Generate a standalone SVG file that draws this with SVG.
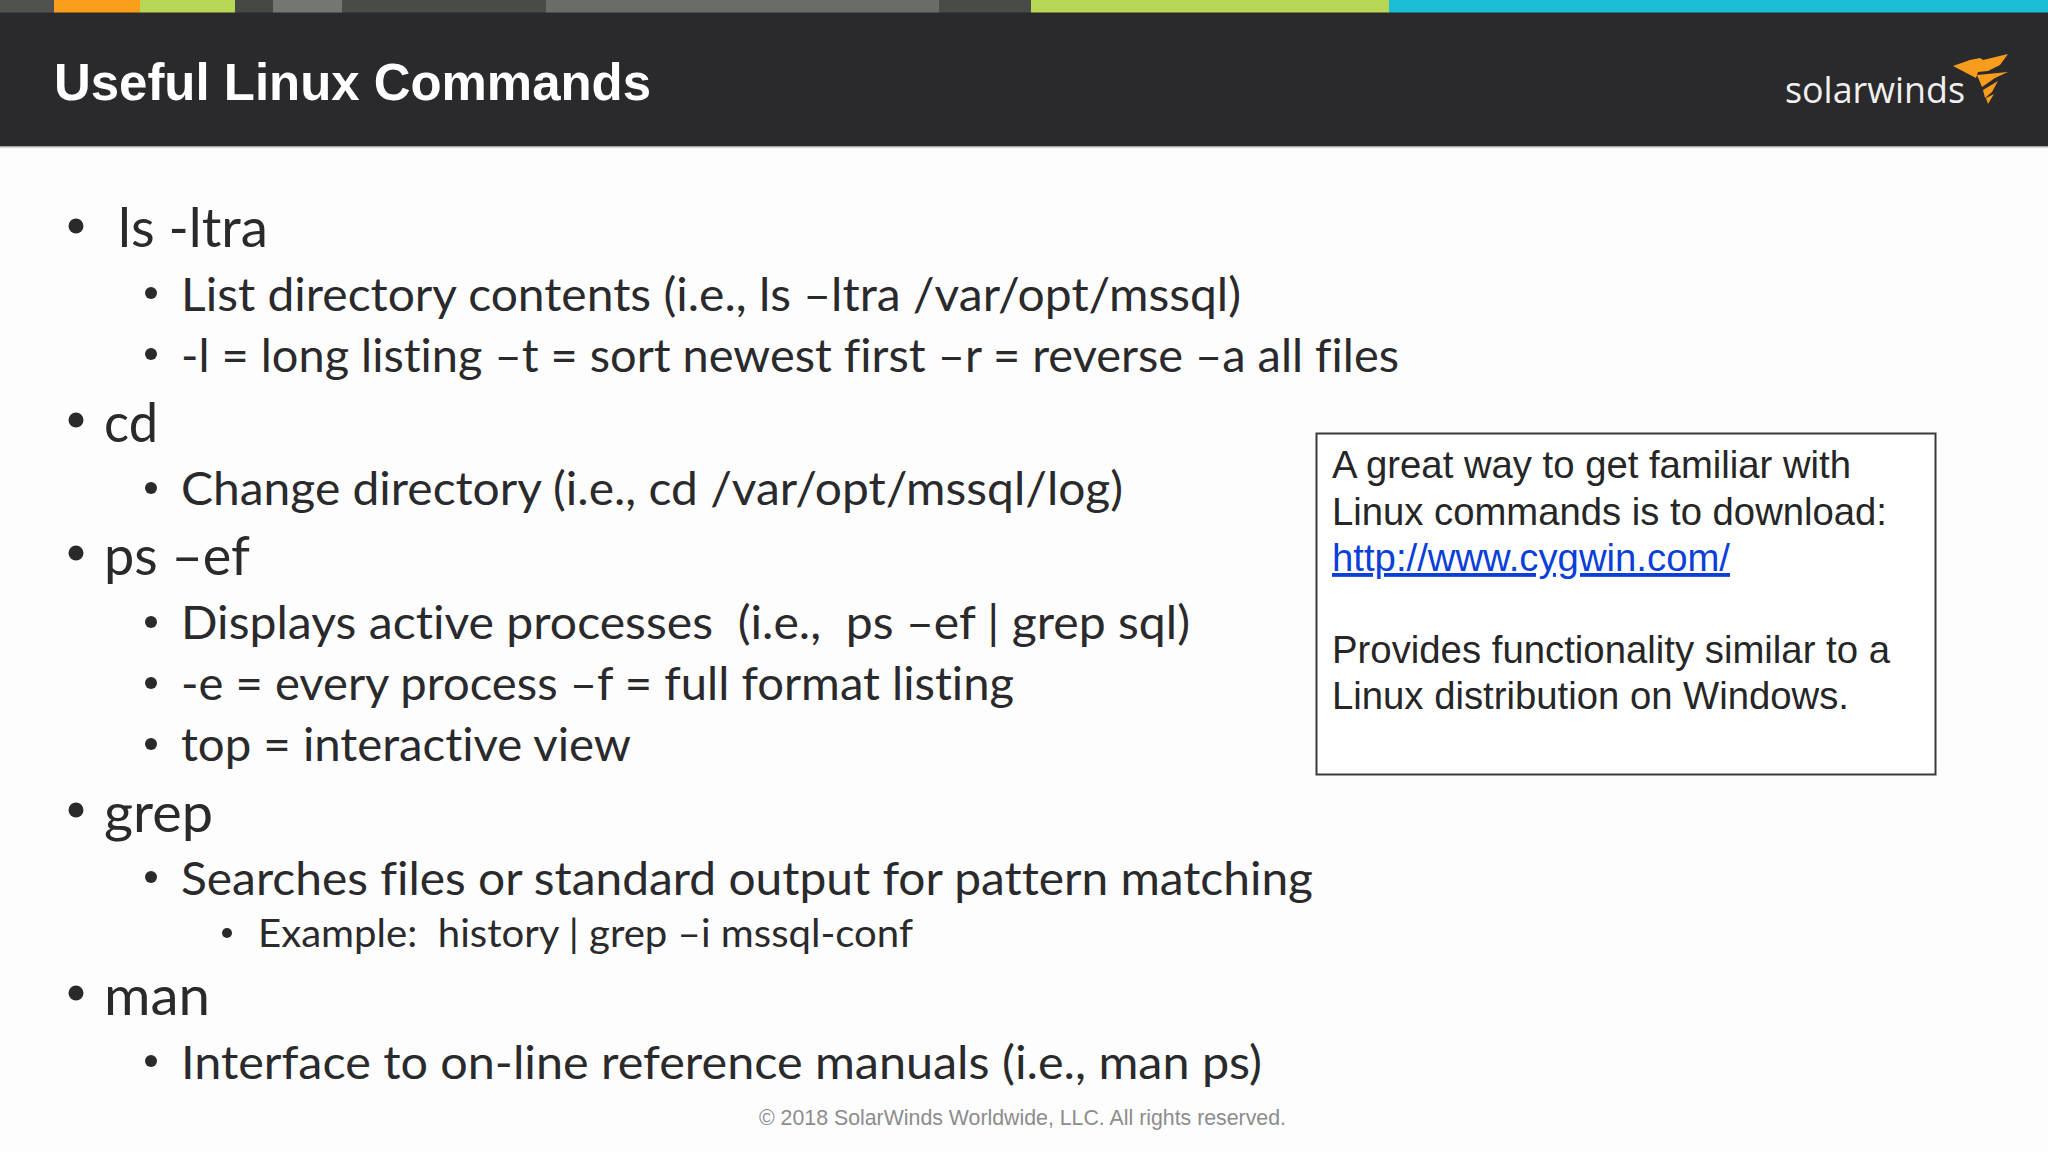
<svg xmlns="http://www.w3.org/2000/svg" width="2048" height="1152" viewBox="0 0 2048 1152">
<style>
.a{font-family:"Liberation Sans",Arial,sans-serif}
.b{font-family:Lato,"Open Sans",sans-serif;fill:#2a2a2c;font-weight:400;font-variant-ligatures:none}
.l1{font-size:54px}
.l2{font-size:46px}
.l3{font-size:39px}
.c{font-size:38.5px;fill:#262626}
.d{fill:#2a2a2c}
</style>
<rect width="2048" height="1152" fill="#fdfdfe"/>
<rect width="2048" height="146" fill="#2a2a2c"/>
<rect y="146" width="2048" height="1.5" fill="#a9a9ab"/>
<g id="top-bar">
<rect width="54" height="12.5" fill="#505250"/>
<rect x="54" width="86" height="12.5" fill="#fb9e1c"/>
<rect x="140" width="95" height="12.5" fill="#b5d755"/>
<rect x="235" width="38" height="12.5" fill="#454845"/>
<rect x="273" width="69" height="12.5" fill="#747674"/>
<rect x="342" width="204" height="12.5" fill="#484b48"/>
<rect x="546" width="393" height="12.5" fill="#6a6c69"/>
<rect x="939" width="92" height="12.5" fill="#484b48"/>
<rect x="1031" width="358" height="12.5" fill="#b9d756"/>
<rect x="1389" width="659" height="12.5" fill="#1bbfd3"/>
</g>
<text class="a" x="54" y="100" font-size="52" font-weight="700" fill="#fff" textLength="597" lengthAdjust="spacingAndGlyphs">Useful Linux Commands</text>
<g id="logo">
<text x="1785" y="103" font-family="Open Sans,sans-serif" font-size="36" fill="#f0f0f0" textLength="180" lengthAdjust="spacingAndGlyphs">solarwinds</text>
<path d="M1953 66 L1970 60 L1980 58 L1983 60 L2008 54 L2000 65 L1988 71 L1978 72 L1976 78 Z" fill="#f89c1e"/>
<path d="M1977 75 L2008 72 L1995 78 L1982 87 Z" fill="#f89c1e"/>
<path d="M1983 90 L1998 81 L1992 92 L1985 98 Z" fill="#f89c1e"/>
<path d="M1984 99 L1994 94 L1988 104 L1986 98 Z" fill="#f89c1e"/>
</g>
<g id="bullets" class="d">
<circle cx="76" cy="226" r="7.5"/>
<circle cx="151" cy="293" r="6"/>
<circle cx="151" cy="354" r="6"/>
<circle cx="76" cy="420" r="7.5"/>
<circle cx="151" cy="488" r="6"/>
<circle cx="76" cy="553" r="7.5"/>
<circle cx="151" cy="622" r="6"/>
<circle cx="151" cy="683" r="6"/>
<circle cx="151" cy="744" r="6"/>
<circle cx="76" cy="810" r="7.5"/>
<circle cx="151" cy="877" r="6"/>
<circle cx="227" cy="933" r="5"/>
<circle cx="76" cy="993" r="7.5"/>
<circle cx="151" cy="1061" r="6"/>
</g>
<g id="body">
<text class="b l1" x="118" y="246.5" textLength="150" lengthAdjust="spacingAndGlyphs">ls -ltra</text>
<text class="b l2" x="181" y="311" textLength="1060" lengthAdjust="spacingAndGlyphs">List directory contents (i.e., ls –ltra /var/opt/mssql)</text>
<text class="b l2" x="181" y="372" textLength="1218" lengthAdjust="spacingAndGlyphs">-l = long listing –t = sort newest first –r = reverse –a all files</text>
<text class="b l1" x="104" y="441.5" textLength="54" lengthAdjust="spacingAndGlyphs">cd</text>
<text class="b l2" x="181" y="505" textLength="942" lengthAdjust="spacingAndGlyphs">Change directory (i.e., cd /var/opt/mssql/log)</text>
<text class="b l1" x="104" y="574.5" textLength="146" lengthAdjust="spacingAndGlyphs">ps –ef</text>
<text class="b l2" x="181" y="639" textLength="1009" lengthAdjust="spacingAndGlyphs" xml:space="preserve">Displays active processes  (i.e.,  ps –ef | grep sql)</text>
<text class="b l2" x="181" y="700" textLength="833" lengthAdjust="spacingAndGlyphs">-e = every process –f = full format listing</text>
<text class="b l2" x="181" y="761" textLength="450" lengthAdjust="spacingAndGlyphs">top = interactive view</text>
<text class="b l1" x="104" y="831.5" textLength="109" lengthAdjust="spacingAndGlyphs">grep</text>
<text class="b l2" x="181" y="895" textLength="1132" lengthAdjust="spacingAndGlyphs">Searches files or standard output for pattern matching</text>
<text class="b l3" x="258" y="947" textLength="655" lengthAdjust="spacingAndGlyphs" xml:space="preserve">Example:  history | grep –i mssql-conf</text>
<text class="b l1" x="104" y="1015" textLength="106" lengthAdjust="spacingAndGlyphs">man</text>
<text class="b l2" x="181" y="1079" textLength="1081" lengthAdjust="spacingAndGlyphs">Interface to on-line reference manuals (i.e., man ps)</text>
</g>
<g id="callout">
<rect x="1316.5" y="433.5" width="619" height="341" fill="#fff" stroke="#3a3a3a" stroke-width="2"/>
<text class="a c" x="1332" y="478" textLength="519" lengthAdjust="spacingAndGlyphs">A great way to get familiar with</text>
<text class="a c" x="1332" y="525" textLength="555" lengthAdjust="spacingAndGlyphs">Linux commands is to download:</text>
<text class="a c" x="1332" y="571" style="fill:#0b3fd8" text-decoration="underline" textLength="398" lengthAdjust="spacingAndGlyphs">http://www.cygwin.com/</text>
<text class="a c" x="1332" y="663" textLength="558" lengthAdjust="spacingAndGlyphs">Provides functionality similar to a</text>
<text class="a c" x="1332" y="709" textLength="517" lengthAdjust="spacingAndGlyphs">Linux distribution on Windows.</text>
</g>
<text id="footer" class="a" x="759" y="1125" font-size="22" fill="#8c8c8c" textLength="527" lengthAdjust="spacingAndGlyphs">© 2018 SolarWinds Worldwide, LLC. All rights reserved.</text>
</svg>
